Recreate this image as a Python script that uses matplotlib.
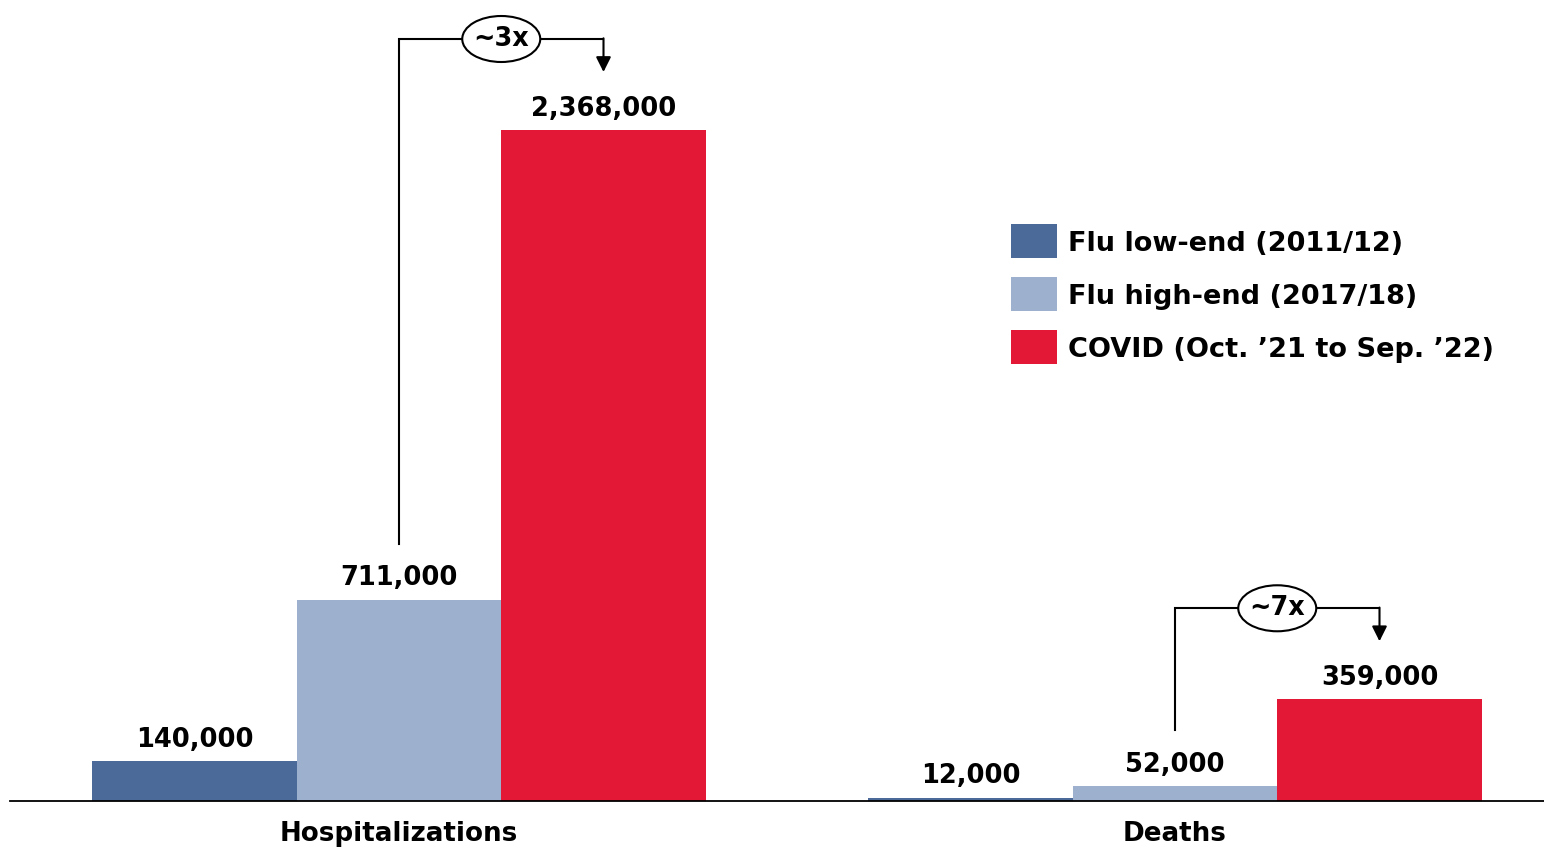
import matplotlib
matplotlib.use('Agg')
import matplotlib.pyplot as plt
from matplotlib.patches import Ellipse, Rectangle
import numpy as np

# data
groups = ['Hospitalizations', 'Deaths']
series = ['Flu low-end (2011/12)', 'Flu high-end (2017/18)', 'COVID (Oct. \u201921 to Sep. \u201922)']
flu_low = [140000, 12000]
flu_high = [711000, 52000]
covid = [2368000, 359000]
ratios = ['~3x', '~7x']
colors = ['#4B6A9A', '#9DB0CE', '#E31837']

plt.rcParams['font.family'] = ['DejaVu Sans']
plt.rcParams['font.weight'] = 'bold'
FS_VAL = 18.5
FS_CAT = 18.8
FS_LEG = 19.5
FS_RAT = 18.4
LW = 1.5

W, H = 1544, 850
fig = plt.figure(figsize=(W / 100, H / 100), dpi=100)
ax = fig.add_axes([10 / W, 49 / H, 1534 / W, 801 / H])

x = np.arange(len(groups))
w = 204.5 / 776
allvals = [flu_low, flu_high, covid]
for i, vals in enumerate(allvals):
    bars = ax.bar(x + (i - 1) * w, vals, w, color=colors[i], linewidth=0)
    for b, v in zip(bars, vals):
        ax.annotate('{:,}'.format(v), (b.get_x() + b.get_width() / 2, v),
                    xytext=(0, 6), textcoords='offset points',
                    ha='center', va='bottom', fontsize=FS_VAL, fontweight='bold')

ax.set_xlim((10 - 399) / 776, (1544 - 399) / 776)
ax.set_ylim(0, covid[0] * 801 / 671)
dy = ax.get_ylim()[1] / 801  # data units per pixel

for s in ['top', 'right', 'left']:
    ax.spines[s].set_visible(False)
ax.spines['bottom'].set_linewidth(1.3)
ax.set_yticks([])
ax.set_xticks(x, groups)
ax.tick_params(axis='x', length=0, pad=14.5, labelsize=FS_CAT)
for t in ax.get_xticklabels():
    t.set_fontweight('bold')

# ratio brackets
for gi in range(len(groups)):
    x1 = x[gi]
    x2 = x[gi] + w
    y_bot = flu_high[gi] + 56 * dy
    y_top = covid[gi] + 91 * dy
    y_tip = covid[gi] + 58 * dy
    ax.plot([x1, x1, x2], [y_bot, y_top, y_top],
            color='black', lw=LW, clip_on=False, zorder=3, solid_joinstyle='miter')
    ax.annotate('', xy=(x2, y_tip), xytext=(x2, y_top + 0.7 * dy),
                arrowprops=dict(arrowstyle='-|>,head_length=0.9,head_width=0.45',
                                color='black', lw=LW, shrinkA=0, shrinkB=0),
                annotation_clip=False, zorder=3)
    xm = (x1 + x2) / 2
    ax.add_patch(Ellipse((xm, y_top), 78 / 776, 46 * dy, facecolor='white',
                         edgecolor='black', lw=LW, zorder=4, clip_on=False))
    ax.text(xm, y_top, ratios[gi], ha='center', va='center', fontsize=FS_RAT,
            fontweight='bold', zorder=5)

# legend
for i, lab in enumerate(series):
    y0 = 224 + i * 53
    fig.add_artist(Rectangle((1011 / W, 1 - (y0 + 34) / H), 46 / W, 34 / H,
                             transform=fig.transFigure, facecolor=colors[i], linewidth=0))
    fig.text(1068 / W, 1 - (y0 + 20) / H, lab, ha='left', va='center',
             fontsize=FS_LEG, fontweight='bold')

fig.savefig('out.png', dpi=100)
